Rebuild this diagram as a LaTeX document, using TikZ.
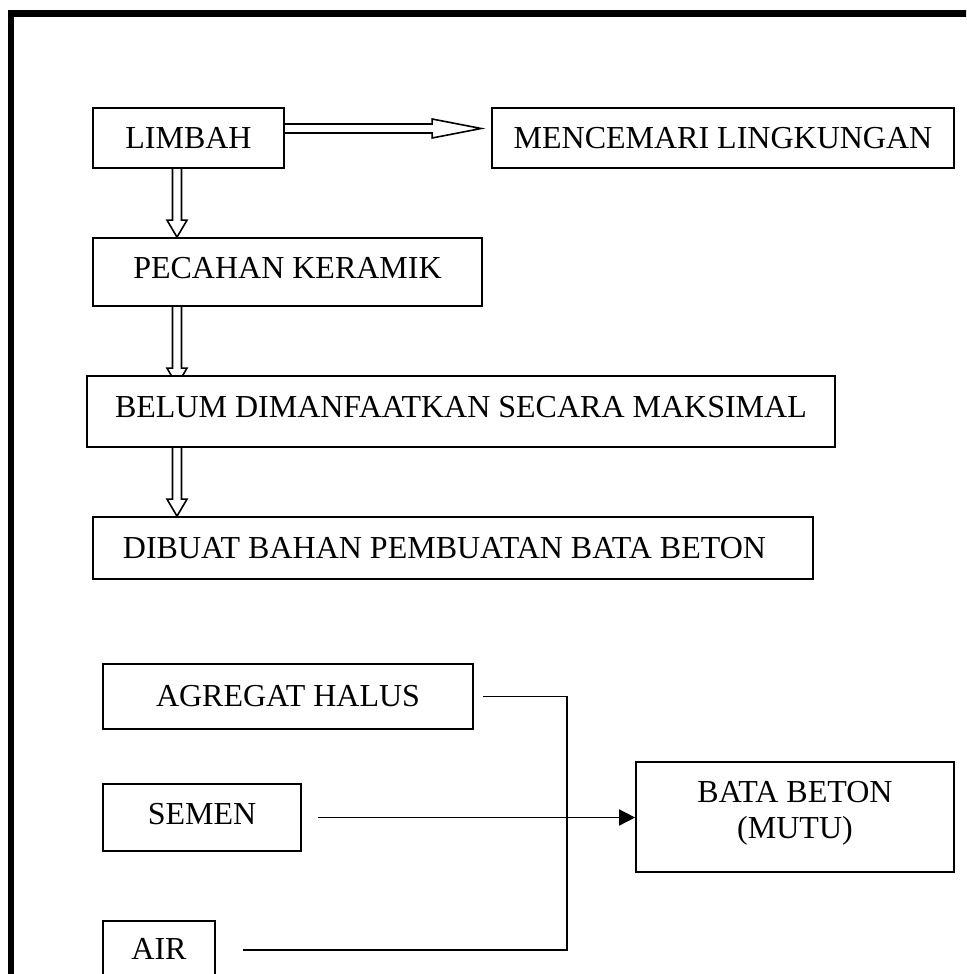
\documentclass[tikz,border=0pt]{standalone}
\usepackage{fontspec}
\setmainfont{Liberation Serif}
\usetikzlibrary{calc,arrows.meta,backgrounds}
\newcommand{\vdarrow}[2]{%
  \draw[hollow] let \p1=(#1), \p2=(#2) in
  (\x1-4.5pt,\y1) -- (\x1-4.5pt,\y2+17pt) -- (\x1-10pt,\y2+17pt) -- (\x1,\y2)
  -- (\x1+10pt,\y2+17pt) -- (\x1+4.5pt,\y2+17pt) -- (\x1+4.5pt,\y1);}
\newcommand{\hrarrow}[2]{%
  \draw[hollow] let \p1=(#1), \p2=(#2) in
  (\x1,\y1+4.5pt) -- (\x2-49pt,\y1+4.5pt) -- (\x2-49pt,\y1+9.5pt) -- (\x2,\y1)
  -- (\x2-49pt,\y1-9.5pt) -- (\x2-49pt,\y1-4.5pt) -- (\x1,\y1-4.5pt);}
\begin{document}
\begin{tikzpicture}[x=1pt,y=-1pt,
  box/.style={draw, line width=1.7pt, fill=white, inner sep=0pt, align=center,
    font=\fontsize{32}{36}\selectfont},
  conn/.style={line width=1.6pt},
  hollow/.style={draw, line width=1.6pt, fill=white, line join=miter}]
\useasboundingbox (0,0) rectangle (966,974);
\clip (0,0) rectangle (966,974);

% frame
\draw[line width=6.5pt] (11,990) -- (11,13.5) -- (990,13.5);

% boxes
\node[box, minimum width=191, minimum height=60] (limbah) at (188.5,138) {LIMBAH};
\node[box, minimum width=462, minimum height=60] (mencemari) at (723,138) {MENCEMARI LINGKUNGAN};
\node[box, minimum width=389, minimum height=68, text depth=9pt] (pecahan) at (287.5,272) {PECAHAN KERAMIK};
\node[box, minimum width=748, minimum height=71, text depth=9pt] (belum) at (461,411.5) {BELUM DIMANFAATKAN SECARA MAKSIMAL};
\node[box, minimum width=720, minimum height=62] (dibuat) at (453,548) {DIBUAT BAHAN PEMBUATAN BATA BETON\hspace*{17pt}};
\node[box, minimum width=370, minimum height=65] (agregat) at (288,696.5) {AGREGAT HALUS};
\node[box, minimum width=198, minimum height=67, text depth=7pt] (semen) at (202,817.5) {SEMEN};
\node[box, minimum width=112, minimum height=64, text depth=9pt] (air) at (159,953) {AIR};
\node[box, minimum width=318, minimum height=110, text depth=14pt] (bata) at (795,817) {BATA BETON\\(MUTU)};

% hollow arrows (behind boxes)
\coordinate (ax) at (177,0);
\begin{scope}[on background layer]
  \hrarrow{$(limbah.east)+(0,-9.5)$}{$(mencemari.west)+(-10,-9.5)$}
  \vdarrow{limbah.south -| ax}{pecahan.north -| ax}
  \vdarrow{pecahan.south -| ax}{$(belum.north -| ax)+(0,10)$}
  \vdarrow{belum.south -| ax}{dibuat.north -| ax}
\end{scope}

% connectors
\coordinate (jx) at (567,0);
\coordinate (agstart) at ($(agregat.east)+(9,0)$);
\coordinate (airend) at ($(air.east)+(27,-3)$);
\draw[conn] (agstart) -| (jx |- airend) -- (airend);
\draw[conn, -{Triangle[length=16pt,width=16pt]}] ($(semen.east)+(16,0)$) -- (bata.west |- semen.east);
\end{tikzpicture}
\end{document}
